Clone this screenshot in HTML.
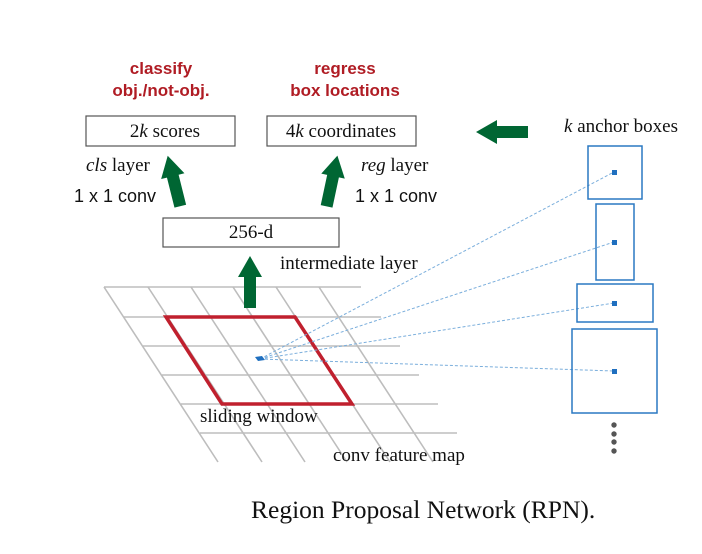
<!DOCTYPE html>
<html><head><meta charset="utf-8"><style>
html,body{margin:0;padding:0;background:#fff}
svg{display:block}
</style></head><body>
<svg width="702" height="554" viewBox="0 0 702 554" xmlns="http://www.w3.org/2000/svg">
<defs>
<g id="arr"><polygon points="0,-26 12,-5 6,-5 6,26 -6,26 -6,-5 -12,-5" fill="#006633"/></g>
</defs>
<g stroke="#bdbdbd" stroke-width="1.6">
<line x1="104" y1="287" x2="361" y2="287"/>
<line x1="124" y1="317" x2="381" y2="317"/>
<line x1="143" y1="346" x2="400" y2="346"/>
<line x1="162" y1="375" x2="419" y2="375"/>
<line x1="181" y1="404" x2="438" y2="404"/>
<line x1="200" y1="433" x2="457" y2="433"/>
<line x1="104" y1="287" x2="218" y2="462"/>
<line x1="148" y1="287" x2="262" y2="462"/>
<line x1="191" y1="287" x2="305" y2="462"/>
<line x1="233" y1="287" x2="347" y2="462"/>
<line x1="276" y1="287" x2="390" y2="462"/>
<line x1="319" y1="287" x2="433" y2="462"/>
</g>
<polygon points="166,317 295,317 352,404 222,404" fill="none" stroke="#c0202e" stroke-width="3.5"/>
<g stroke="#7aaedc" stroke-width="1" stroke-dasharray="3,2" fill="none">
<line x1="260" y1="359" x2="614" y2="172"/>
<line x1="260" y1="359" x2="614" y2="242"/>
<line x1="260" y1="359" x2="614" y2="303"/>
<line x1="260" y1="359" x2="614" y2="371"/>
</g>
<polygon points="255,357 262,356 265,360 258,361" fill="#1f6fbf"/>
<g fill="none" stroke="#2a78c2" stroke-width="1.5">
<rect x="588" y="146" width="54" height="53"/>
<rect x="596" y="204" width="38" height="76"/>
<rect x="577" y="284" width="76" height="38"/>
<rect x="572" y="329" width="85" height="84"/>
</g>
<g fill="#1f6fbf">
<rect x="612" y="170" width="5" height="5"/>
<rect x="612" y="240" width="5" height="5"/>
<rect x="612" y="301" width="5" height="5"/>
<rect x="612" y="369" width="5" height="5"/>
</g>
<g fill="#555">
<circle cx="614" cy="425" r="2.7"/><circle cx="614" cy="434" r="2.7"/><circle cx="614" cy="442" r="2.7"/><circle cx="614" cy="451" r="2.7"/>
</g>
<use href="#arr" transform="translate(250,282)"/>
<use href="#arr" transform="translate(174,181) rotate(-14)"/>
<use href="#arr" transform="translate(332,181) rotate(12)"/>
<polygon points="476,132 497,120 497,126 528,126 528,138 497,138 497,144" fill="#006633"/>
<g fill="#fff" stroke="#555" stroke-width="1.2">
<rect x="86" y="116" width="149" height="30"/>
<rect x="267" y="116" width="149" height="30"/>
<rect x="163" y="218" width="176" height="29"/>
</g>
<g font-family="Liberation Serif, serif" font-size="19" fill="#111">
<text x="165" y="137" text-anchor="middle">2<tspan font-style="italic">k</tspan> scores</text>
<text x="341" y="137" text-anchor="middle">4<tspan font-style="italic">k</tspan> coordinates</text>
<text x="251" y="238" text-anchor="middle">256-d</text>
<text x="86" y="171"><tspan font-style="italic">cls</tspan> layer</text>
<text x="361" y="171"><tspan font-style="italic">reg</tspan> layer</text>
<text x="280" y="269">intermediate layer</text>
<text x="564" y="132"><tspan font-style="italic">k</tspan> anchor boxes</text>
<text x="200" y="422">sliding window</text>
<text x="333" y="461">conv feature map</text>
<text x="251" y="518" font-size="25.5">Region Proposal Network (RPN).</text>
</g>
<g font-family="Liberation Sans, sans-serif" font-size="18" fill="#111">
<text x="74" y="202">1 x 1 conv</text>
<text x="355" y="202">1 x 1 conv</text>
</g>
<g font-family="Liberation Sans, sans-serif" font-size="17" font-weight="bold" fill="#b01c24" text-anchor="middle">
<text x="161" y="74">classify</text>
<text x="161" y="96">obj./not-obj.</text>
<text x="345" y="74">regress</text>
<text x="345" y="96">box locations</text>
</g>
</svg>
</body></html>
